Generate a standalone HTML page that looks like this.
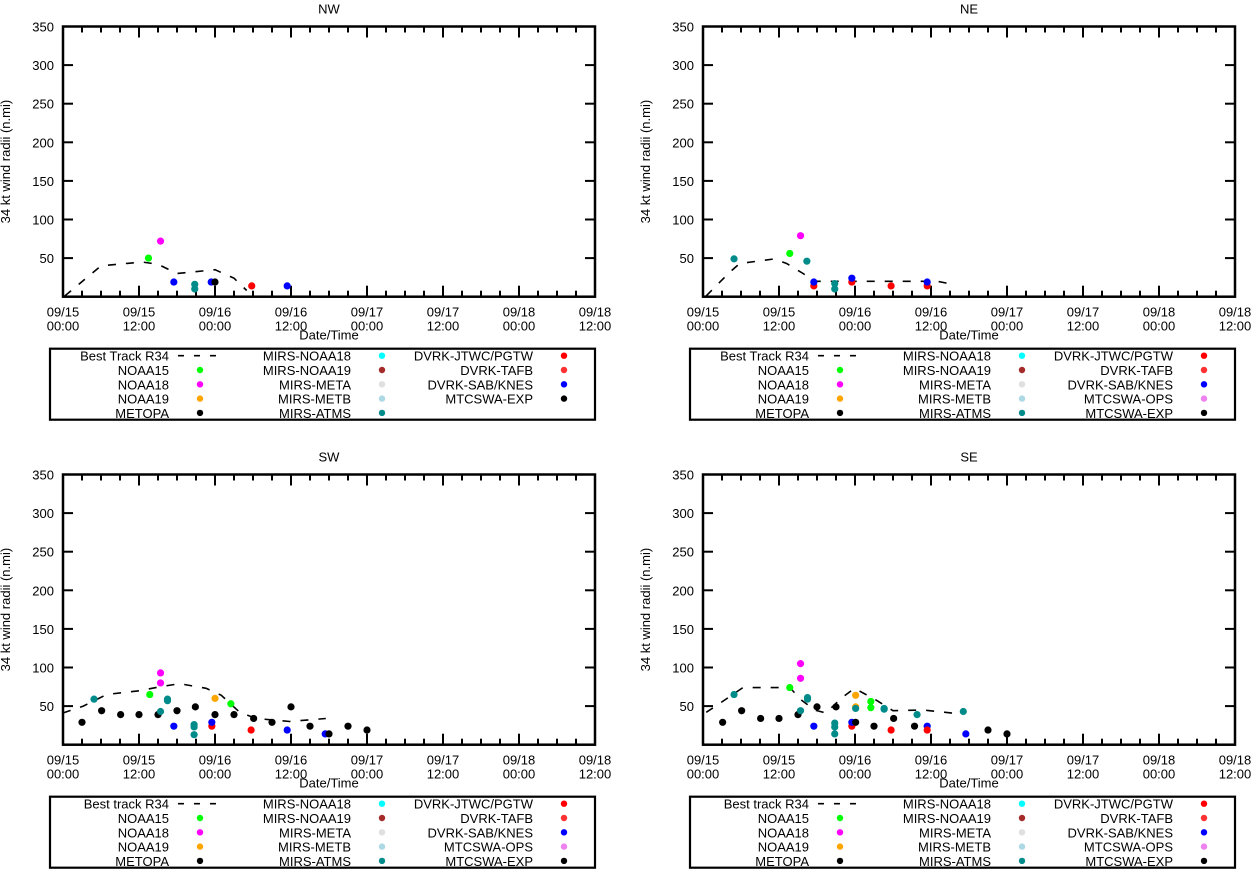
<!DOCTYPE html>
<html><head><meta charset="utf-8"><style>
body{margin:0;background:#fff;}
svg{display:block;font-family:"Liberation Sans",sans-serif;}
</style></head><body>
<svg id="c" width="1253" height="870" xmlns="http://www.w3.org/2000/svg"></svg>
<script>
// hours since 09/15 00:00, values n.mi
const xTickLabels = [["09/15","00:00"],["09/15","12:00"],["09/16","00:00"],["09/16","12:00"],["09/17","00:00"],["09/17","12:00"],["09/18","00:00"],["09/18","12:00"]];
const yTicks = [50,100,150,200,250,300,350];
const colors = {NOAA15:"#00ff00",NOAA18:"#ff00ff",NOAA19:"#ffa500",METOPA:"#000000",MIRSN18:"#00ffff",MIRSN19:"#a52a2a",META:"#e0e0e0",METB:"#add8e6",ATMS:"#008b8b",JTWC:"#ff0000",TAFB:"#ff3030",SAB:"#0000ff",OPS:"#ee82ee",EXP:"#000000"};

const nwTrackH = [0.3,6,12.5,15,18,24,27,29];
const nwTrackV = [1,40,45,42,30,35,24,8];
const nwPts = [["NOAA15",13.5,50],["NOAA18",15.4,72],["SAB",17.5,19],["ATMS",20.8,16],["ATMS",20.8,10],["SAB",23.4,19],["EXP",24,19],["JTWC",29.8,14],["SAB",35.4,14]];

const neTrackH = [0.5,4.25,5.8,11.3,13.2,15.8,17.6,37,40];
const neTrackV = [1,32,43,49,43,30,20,20,15];
const nePts = [["ATMS",4.9,49],["NOAA15",13.7,56],["NOAA18",15.4,79],["ATMS",16.4,46],["JTWC",17.5,14],["SAB",17.5,19],["ATMS",20.8,17],["ATMS",20.8,10],["JTWC",23.5,19],["SAB",23.5,24],["JTWC",29.7,14],["JTWC",35.4,14],["SAB",35.4,19]];

const swTrackH = [0,3.2,6.9,12.1,15.3,18.4,22.6,25,27.9,30.5,35.8,41.5];
const swTrackV = [41,50,65,70,75,79,73,64,42,34,30,34];
const swPts = [["ATMS",4.9,59],["EXP",3,29],["EXP",6.1,44],["EXP",9.1,39],["EXP",12,39],["NOAA15",13.7,65],["EXP",15,39],["NOAA18",15.4,93],["NOAA18",15.4,80],["ATMS",15.4,43],["ATMS",16.5,59],["ATMS",16.5,57],["SAB",17.5,24],["EXP",18,44],["ATMS",20.7,26],["ATMS",20.7,23],["ATMS",20.7,13],["EXP",20.9,49],["JTWC",23.5,24],["SAB",23.5,29],["NOAA19",24,60],["EXP",24,39],["NOAA15",26.5,53],["EXP",27,39],["EXP",30.1,34],["JTWC",29.7,19],["EXP",33,29],["SAB",35.4,19],["EXP",36,49],["EXP",39,24],["SAB",41.4,14],["EXP",42,14],["EXP",45,24],["EXP",48,19]];

const seTrackH = [0.5,2.2,4.7,6.3,13.7,15.5,17.6,19.4,21.8,23.9,27.3,30,34.7,40.5];
const seTrackV = [42,51,65,74,74,58,45,41,60,73,58,44,45,40];
const sePts = [["ATMS",4.9,65],["EXP",3.1,29],["EXP",6.1,44],["EXP",9.1,34],["EXP",12,34],["NOAA15",13.7,74],["EXP",15,39],["NOAA18",15.4,105],["NOAA18",15.4,86],["ATMS",15.4,44],["ATMS",16.5,61],["ATMS",16.5,59],["SAB",17.5,24],["EXP",18,49],["ATMS",20.8,28],["ATMS",20.8,23],["ATMS",20.8,14],["EXP",21,49],["JTWC",23.5,24],["SAB",23.5,29],["NOAA19",24.1,64],["NOAA19",24.1,49],["ATMS",24.1,47],["EXP",24.1,29],["NOAA15",26.5,56],["NOAA15",26.5,48],["EXP",27,24],["ATMS",28.6,47],["ATMS",28.6,46],["EXP",30.1,34],["JTWC",29.7,19],["EXP",33.4,24],["ATMS",33.8,39],["SAB",35.4,24],["JTWC",35.4,19],["ATMS",41.1,43],["SAB",41.5,14],["EXP",45,19],["EXP",48,14]];

const NS="http://www.w3.org/2000/svg";
const svg=document.getElementById('c');
function mk(tag,attrs,parent){const e=document.createElementNS(NS,tag);for(const k in attrs)e.setAttribute(k,attrs[k]);(parent||svg).appendChild(e);return e;}
function txt(s,x,y,anchor,parent,size){const t=mk('text',{x:x,y:y,'text-anchor':anchor||'middle','font-size':size||13,fill:'#000'},parent);t.textContent=s;return t;}

function panel(name,ox,oy,trackH,trackV,pts,bestLabel,showOps){
  const W=532,H=270.2,pw=W/84;
  const g=mk('g',{});
  
  
  const X=h=>ox+h*pw, Y=v=>oy+H-v*H/350;
  const t=txt(name,ox+W/2-(name.length>2?0:0),oy-13,'middle',g);
  
  
  const yt=txt('34 kt wind radii (n.mi)',0,0,'middle',g);
  yt.setAttribute('transform','translate('+(ox-53)+','+(oy+H/2)+') rotate(-90)');
  
  
  for(const v of yTicks){
    mk('line',{x1:ox,x2:ox+10,y1:Y(v),y2:Y(v),stroke:'#000','stroke-width':2},g);
    mk('line',{x1:ox+W-10,x2:ox+W,y1:Y(v),y2:Y(v),stroke:'#000','stroke-width':2},g);
    const l=txt(String(v),ox-9,Y(v)+5,'end',g);
    
    
  }
  for(let h=3;h<84;h+=3){
    const len=(h%12===0)?11:6;
    mk('line',{x1:X(h),x2:X(h),y1:oy+H,y2:oy+H-len,stroke:'#000','stroke-width':2},g);
    mk('line',{x1:X(h),x2:X(h),y1:oy,y2:oy+len,stroke:'#000','stroke-width':2},g);
  }
  xTickLabels.forEach((lb,i)=>{
    const a=txt(lb[0],X(i*12),oy+H+20,'middle',g);
    
    
    const b=txt(lb[1],X(i*12),oy+H+34,'middle',g);
    
    
  });
  const xt=txt('Date/Time',ox+W/2-0,oy+H+43,'middle',g);
  
  
  mk('rect',{x:ox,y:oy,width:W,height:H,fill:'none',stroke:'#000','stroke-width':2.5},g);
  const d=trackH.map((h,i)=>(i?'L':'M')+X(h).toFixed(1)+','+Y(trackV[i]).toFixed(1)).join(' ');
  const p=mk('path',{d:d,fill:'none',stroke:'#000','stroke-width':1.6,'stroke-dasharray':'8,10'},g);
  
  
  for(const q of pts){
    const c=mk('circle',{cx:X(q[1]),cy:Y(q[2]),r:3.6,fill:colors[q[0]]},g);
    
    
  }
  // legend
  const lx=ox-13, ly=oy+H+52;
  const lg=mk('g',{},g);
  
  
  mk('rect',{x:lx,y:ly,width:W+13,height:71,fill:'none',stroke:'#000','stroke-width':2.2},lg);
  const cols=[
    [[bestLabel,null],['NOAA15','NOAA15'],['NOAA18','NOAA18'],['NOAA19','NOAA19'],['METOPA','METOPA']],
    [['MIRS-NOAA18','MIRSN18'],['MIRS-NOAA19','MIRSN19'],['MIRS-META','META'],['MIRS-METB','METB'],['MIRS-ATMS','ATMS']],
    showOps?[['DVRK-JTWC/PGTW','JTWC'],['DVRK-TAFB','TAFB'],['DVRK-SAB/KNES','SAB'],['MTCSWA-OPS','OPS'],['MTCSWA-EXP','EXP']]
           :[['DVRK-JTWC/PGTW','JTWC'],['DVRK-TAFB','TAFB'],['DVRK-SAB/KNES','SAB'],['MTCSWA-EXP','EXP']]
  ];
  const tx=[119,301,483], mx=[150,332,514];
  cols.forEach((col,ci)=>col.forEach((it,ri)=>{
    const yy=ly+7+ri*14.3;
    const e=txt(it[0],lx+tx[ci],yy+5,'end',lg);
    
    
    if(it[1]===null){
      mk('line',{x1:lx+128,x2:lx+166,y1:yy,y2:yy,stroke:'#000','stroke-width':1.6,'stroke-dasharray':'6,10'},lg);
    } else {
      mk('circle',{cx:lx+mx[ci],cy:yy,r:3.2,fill:colors[it[1]]},lg);
    }
  }));
}
panel('NW',63,26.5,nwTrackH,nwTrackV,nwPts,'Best Track R34',false);
panel('NE',703,26.5,neTrackH,neTrackV,nePts,'Best Track R34',true);
panel('SW',63,474.5,swTrackH,swTrackV,swPts,'Best track R34',true);
panel('SE',703,474.5,seTrackH,seTrackV,sePts,'Best track R34',true);
</script>
</body></html>
